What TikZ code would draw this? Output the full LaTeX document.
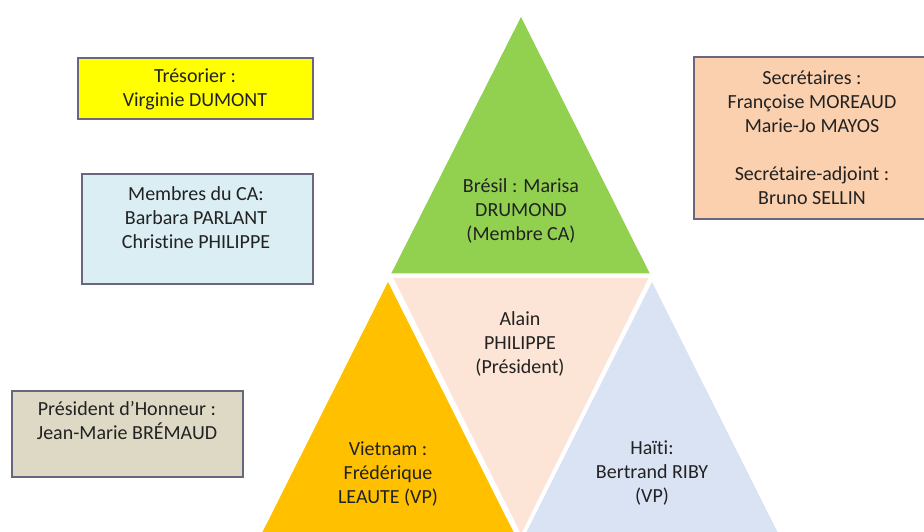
\documentclass[tikz,border=0pt]{standalone}
\usepackage{fontspec}
\setmainfont{Carlito}[Ligatures={NoCommon,NoRare}]
\definecolor{cgreen}{HTML}{92D050}
\definecolor{corange}{HTML}{FFC000}
\definecolor{cpeach}{HTML}{FCE4D6}
\definecolor{cblue}{HTML}{DAE3F3}
\definecolor{cyellow}{HTML}{FFFF00}
\definecolor{cboxblue}{HTML}{DAEEF3}
\definecolor{cboxpeach}{HTML}{FBD0AE}
\definecolor{cboxgrey}{HTML}{DDD9C4}
\definecolor{cborder}{HTML}{6A6680}
\definecolor{ctext}{HTML}{222222}
\begin{document}
\begin{tikzpicture}[x=1pt,y=-1pt,
  box/.style={draw=cborder,line width=2pt,inner sep=0pt,anchor=north west},
  tri/.style={draw=white,line width=1.5pt},
  lbl/.style={text=ctext,align=center,font=\fontsize{20}{24}\selectfont,inner sep=0pt}]
\clip (0,0) rectangle (924,532);
\fill[white] (0,0) rectangle (924,532);
% triangles
\path[tri,fill=cgreen] (521,15) -- (390,274) -- (651,274) -- cycle;
\path[tri,fill=cpeach] (392,277) -- (650,277) -- (521,536) -- cycle;
\path[tri,fill=corange] (388,280) -- (258,539) -- (518,539) -- cycle;
\path[tri,fill=cblue] (652,280) -- (522,539) -- (782,539) -- cycle;
% boxes
\node[box,fill=cyellow,minimum width=235pt,minimum height=61pt] (btres) at (77,57) {};
\node[box,fill=cboxblue,minimum width=231pt,minimum height=110pt] (bca) at (81,173) {};
\node[box,fill=cboxpeach,minimum width=232pt,minimum height=162pt] (bsec) at (693,56) {};
\node[box,fill=cboxgrey,minimum width=231pt,minimum height=86pt] (bhon) at (11,390) {};
% texts
\node[lbl] (ttres) at (195,89) {Trésorier :\\Virginie DUMONT};
\node[lbl] (tca) at (196,218) {Membres du CA:\\Barbara PARLANT\\Christine PHILIPPE};
\node[lbl] (tsec) at (812,138) {Secrétaires :\\Françoise MOREAUD\\Marie-Jo MAYOS\\[24pt]Secrétaire-adjoint :\\Bruno SELLIN};
\node[lbl] (thon) at (127,421) {Président d’Honneur :\\Jean-Marie BRÉMAUD};
\node[lbl] (tbre) at (521,211) {Brésil : Marisa\\DRUMOND\\(Membre CA)};
\node[lbl] (tpres) at (520,344) {Alain\\PHILIPPE\\(Président)};
\node[lbl] (tvie) at (388,474) {Vietnam :\\Frédérique\\LEAUTE (VP)};
\node[lbl] (thai) at (652,473) {Haïti:\\Bertrand RIBY\\(VP)};
\end{tikzpicture}
\end{document}
